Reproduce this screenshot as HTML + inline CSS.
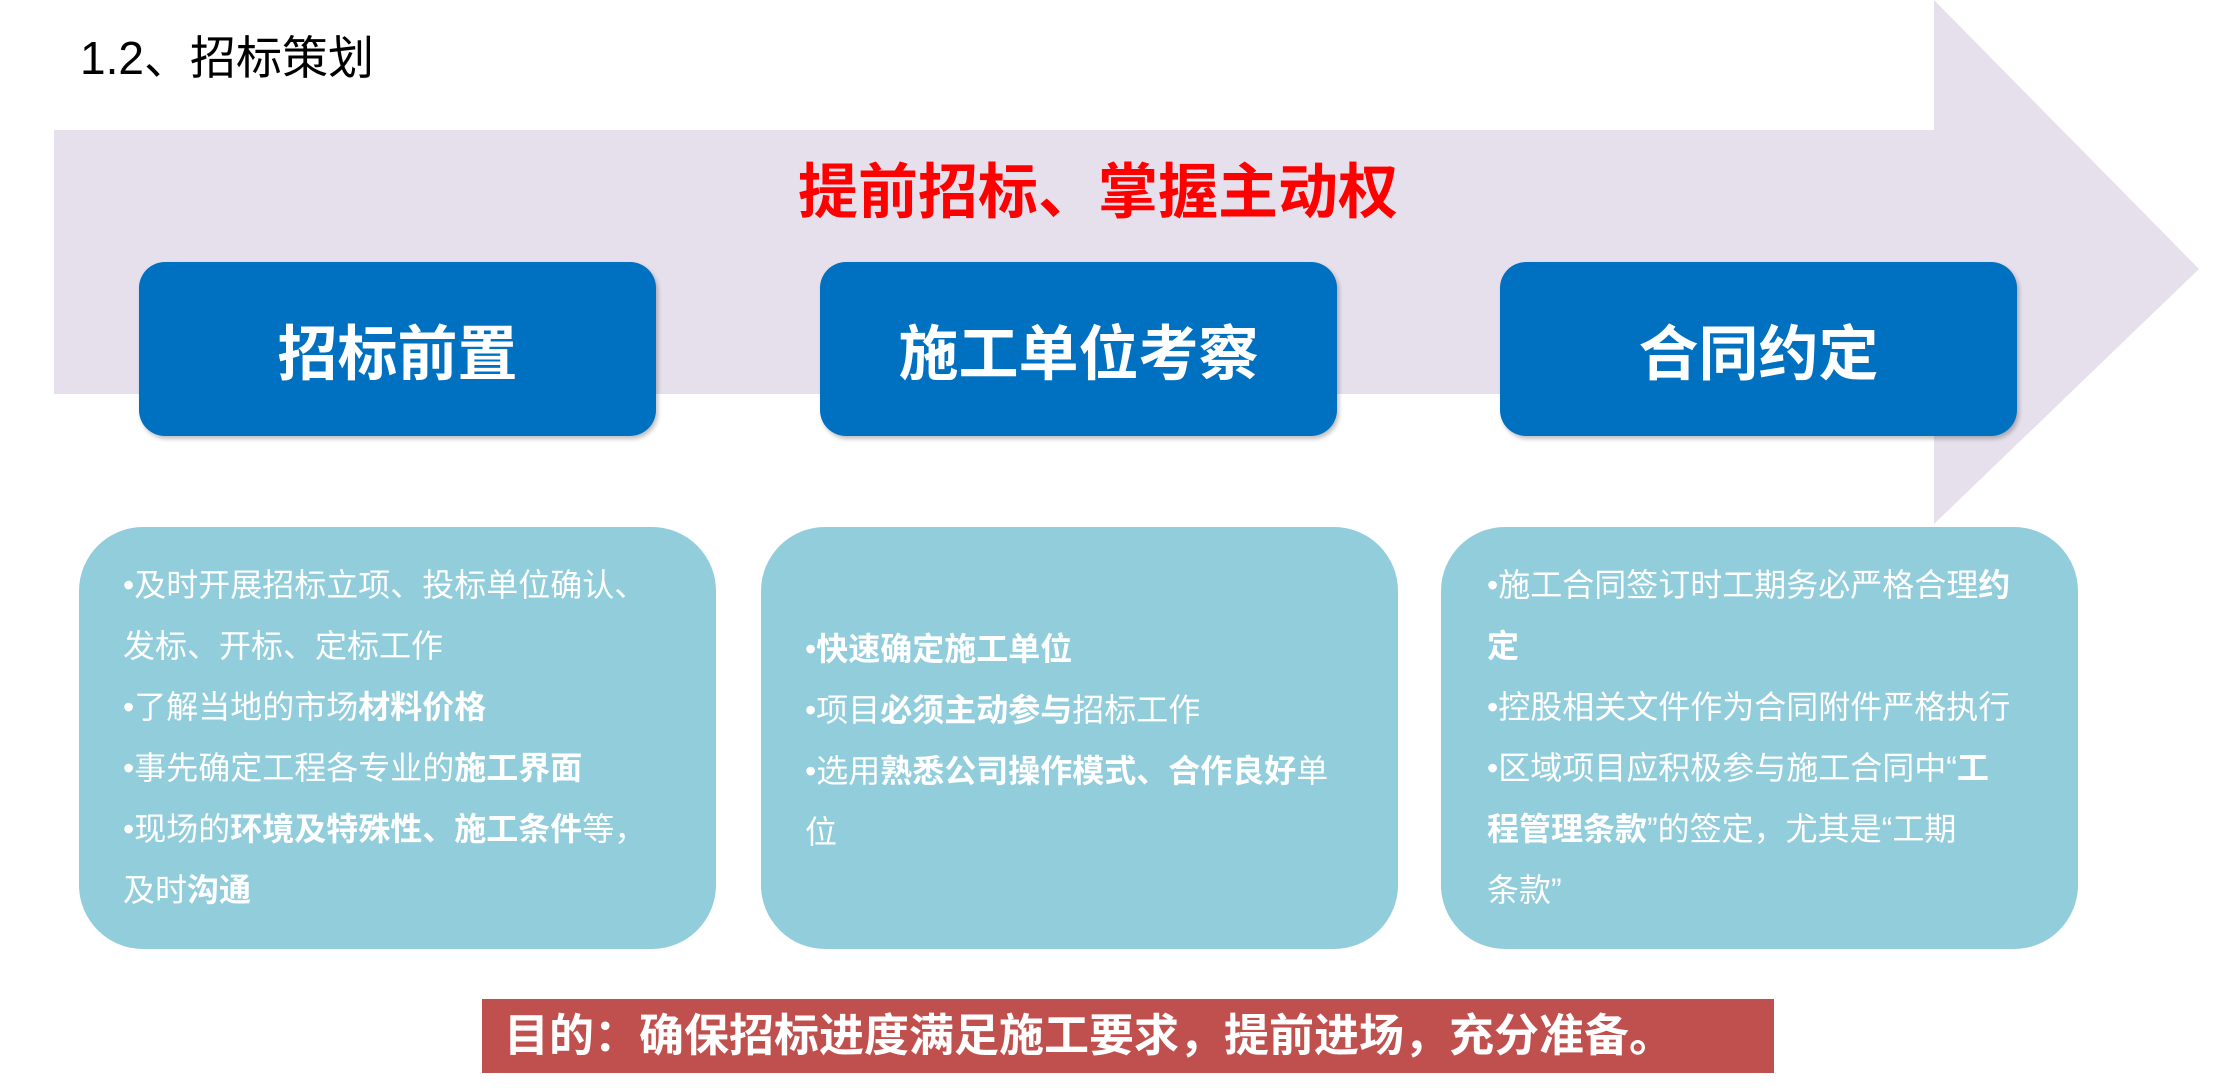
<!DOCTYPE html>
<html><head><meta charset="utf-8"><style>
body{margin:0;width:2223px;height:1088px;background:#fff;position:relative;overflow:hidden;font-family:"Liberation Sans","Noto Sans CJK SC",sans-serif}
.a{position:absolute}
.blue{position:absolute;background:#0070C0;border-radius:26px;color:#fff;font-weight:bold;font-size:60px;display:flex;align-items:center;justify-content:center;top:262px;width:517px;height:174px;box-shadow:2px 3px 4px rgba(0,0,0,.25)}
.lb{position:absolute;background:#92CDDC;border-radius:64px;top:527px;width:637px;height:422px;color:#fff;font-size:32px;line-height:61px;box-sizing:border-box;padding:28px 0 0 44px;white-space:nowrap}
b{font-weight:bold}
</style></head><body>
<svg class="a" style="left:0;top:0" width="2223" height="1088"><polygon points="54,130 1934,130 1934,0 2199,269 1934,524 1934,394 54,394" fill="#E5E0EC"/></svg>
<div class="a" style="left:80px;top:22px;font-size:46px;color:#000">1.2、招标策划</div>
<div class="a" style="left:0;width:2196px;top:144px;text-align:center;font-size:60px;font-weight:bold;color:#FF0000">提前招标、掌握主动权</div>
<div class="blue" style="left:139px">招标前置</div>
<div class="blue" style="left:820px">施工单位考察</div>
<div class="blue" style="left:1500px">合同约定</div>
<div class="lb" style="left:79px">•及时开展招标立项、投标单位确认、<br>发标、开标、定标工作<br>•了解当地的市场<b>材料价格</b><br>•事先确定工程各专业的<b>施工界面</b><br>•现场的<b>环境及特殊性、施工条件</b>等，<br>及时<b>沟通</b></div>
<div class="lb" style="left:761px;padding-top:92px">•<b>快速确定施工单位</b><br>•项目<b>必须主动参与</b>招标工作<br>•选用<b>熟悉公司操作模式、合作良好</b>单<br>位</div>
<div class="lb" style="left:1441px;padding-left:46px">•施工合同签订时工期务必严格合理<b>约</b><br><b>定</b><br>•控股相关文件作为合同附件严格执行<br>•区域项目应积极参与施工合同中“<b>工</b><br><b>程管理条款</b>”的签定，尤其是“工期<br>条款”</div>
<div class="a" style="left:482px;top:999px;width:1292px;height:74px;background:#C0504D;color:#fff;font-weight:bold;font-size:45px;line-height:74px;box-sizing:border-box;padding-left:22px;white-space:nowrap">目的：确保招标进度满足施工要求，提前进场，充分准备。</div>
</body></html>
